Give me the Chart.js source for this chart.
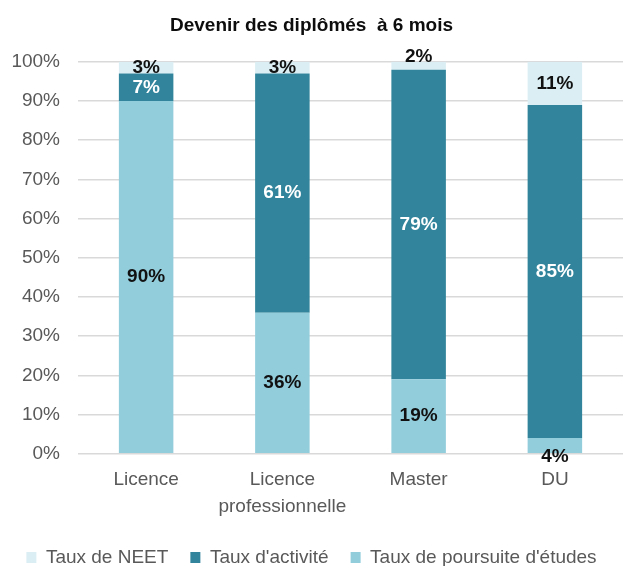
<!DOCTYPE html>
<html>
<head>
<meta charset="utf-8">
<script src="https://cdn.jsdelivr.net/npm/chart.js@4.4.1/dist/chart.umd.min.js"></script>
<style>
  body { margin: 0; background: #fff; }
  #wrap { width: 623px; height: 566px; }
</style>
</head>
<body>
<div id="wrap"><canvas id="chart"></canvas></div>
<script>
// Devenir des diplômés à 6 mois
var categories = ['Licence', ['Licence', 'professionnelle'], 'Master', 'DU'];
var poursuite = [90, 36, 19, 4];   // Taux de poursuite d'études
var activite = [7, 61, 79, 85];    // Taux d'activité
var neet = [3, 3, 2, 11];          // Taux de NEET

Chart.defaults.font.family = '"Liberation Sans", Arial, sans-serif';

// values written on the bars
var barLabels = {
  id: 'barLabels',
  afterDatasetsDraw: function (chart) {
    var ctx = chart.ctx;
    ctx.save();
    ctx.font = 'bold 19px "Liberation Sans", Arial, sans-serif';
    ctx.textAlign = 'center';
    ctx.textBaseline = 'middle';
    chart.data.datasets.forEach(function (ds, i) {
      var meta = chart.getDatasetMeta(i);
      meta.data.forEach(function (bar, j) {
        var h = bar.base - bar.y;
        var y = bar.y + h / 2;
        // small segments: label pushed outside like in excel
        if (i === 0 && h < 16) y = bar.base + 4;
        if (i === 2 && h < 10) y = bar.y - 5;
        ctx.fillStyle = ds.labelColor;
        ctx.fillText(ds.data[j] + '%', bar.x, y);
      });
    });
    ctx.restore();
  }
};

var ctx = document.getElementById('chart').getContext('2d');
var chart = new Chart(ctx, {
  type: 'bar',
  data: {
    labels: categories,
    datasets: [{
      label: "Taux de poursuite d'études",
      data: poursuite,
      backgroundColor: '#92CDDC',
      labelColor: '#111'
    }, {
      label: "Taux d'activité",
      data: activite,
      backgroundColor: '#31849B',
      labelColor: '#fff'
    }, {
      label: 'Taux de NEET',
      data: neet,
      backgroundColor: '#DAEEF3',
      labelColor: '#111'
    }]
  },
  options: {
    responsive: true,
    maintainAspectRatio: false,
    animation: false,
    layout: { padding: { left: 0, right: 0, bottom: -11 } },
    datasets: { bar: { categoryPercentage: 1, barPercentage: 0.4 } },
    plugins: {
      title: {
        display: true,
        text: 'Devenir des diplômés  à 6 mois',
        color: '#0d0d0d',
        font: { size: 19, weight: 'bold' },
        padding: { top: 14, bottom: 25 }
      },
      legend: {
        position: 'bottom',
        reverse: true,
        labels: {
          boxWidth: 10,
          boxHeight: 11,
          padding: 22,
          color: '#595959',
          font: { size: 19 }
        }
      },
      tooltip: { enabled: false }
    },
    scales: {
      x: {
        stacked: true,
        grid: { display: false },
        border: { display: false },
        ticks: { color: '#595959', font: { size: 19, lineHeight: 1.4 }, padding: 5, maxRotation: 0 },
        afterFit: function (scale) { scale.height += 1; }
      },
      y: {
        stacked: true,
        min: 0,
        max: 100,
        border: { display: false },
        grid: { color: '#D9D9D9', lineWidth: 1.5, drawTicks: false },
        ticks: {
          stepSize: 10,
          color: '#595959',
          font: { size: 19 },
          padding: 18,
          callback: function (v) { return v + '%'; }
        },
        afterFit: function (scale) { scale.width = 78; }
      }
    }
  },
  plugins: [barLabels]
});
</script>
</body>
</html>
